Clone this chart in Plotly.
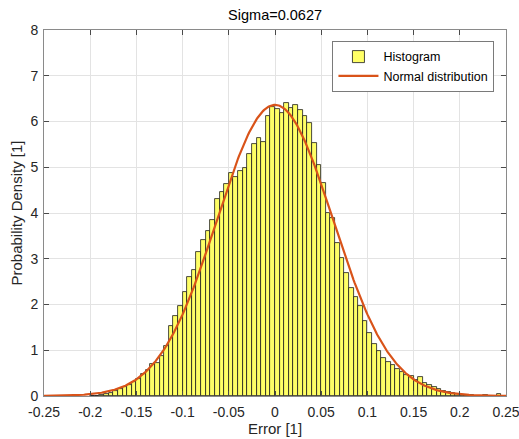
import numpy as np
import plotly.graph_objects as go

# ---- data ----
bin_width = 0.005
bin_start = -0.2
density = [
    0.01, 0.01, 0.02, 0.04, 0.07, 0.10, 0.15, 0.19, 0.23, 0.31,
    0.38, 0.48, 0.57, 0.70, 0.73, 0.88, 1.10, 1.53, 1.75, 1.97,
    2.28, 2.60, 2.75, 3.15, 3.41, 3.61, 3.85, 4.30, 4.47, 4.63,
    4.87, 4.79, 4.92, 4.99, 5.28, 5.50, 5.65, 5.55, 6.11, 6.32,
    6.27, 6.19, 6.40, 6.29, 6.35, 6.25, 6.13, 5.96, 5.52, 5.05,
    4.65, 4.01, 3.88, 3.35, 3.02, 2.68, 2.36, 2.17, 1.96, 1.64,
    1.37, 1.14, 0.98, 0.83, 0.74, 0.67, 0.58, 0.53, 0.47, 0.44,
    0.34, 0.41, 0.29, 0.23, 0.19, 0.15, 0.11, 0.08, 0.06, 0.04,
    0.03, 0.02, 0.02, 0.01, 0.01, 0.02, 0.01, 0.00, 0.05,
]
mu = 0.0
sigma = 0.0627
x_ticks = [-0.25, -0.2, -0.15, -0.1, -0.05, 0, 0.05, 0.1, 0.15, 0.2, 0.25]
x_tick_text = ["-0.25", "-0.2", "-0.15", "-0.1", "-0.05", "0", "0.05", "0.1", "0.15", "0.2", "0.25"]
y_ticks = [0, 1, 2, 3, 4, 5, 6, 7, 8]

bin_centers = [round(bin_start + bin_width * (i + 0.5), 4) for i in range(len(density))]
xc = np.linspace(-0.25, 0.25, 501)
pdf = np.exp(-0.5 * ((xc - mu) / sigma) ** 2) / (sigma * np.sqrt(2 * np.pi))

FONT = "Liberation Sans, Arial, Helvetica, sans-serif"
TXT = "#262626"

fig = go.Figure()
fig.add_trace(go.Bar(
    x=bin_centers, y=density, width=bin_width,
    marker=dict(color="#FFFF66", line=dict(color="#1a1a1a", width=0.8)),
    name="Histogram",
))
fig.add_trace(go.Scatter(
    x=xc, y=pdf, mode="lines",
    line=dict(color="#D95319", width=2.2),
    name="Normal distribution",
))

axis_common = dict(
    showgrid=True, gridcolor="#e3e3e3", gridwidth=1,
    showline=True, linecolor="#8a8a8a", linewidth=1,
    mirror="allticks", ticks="inside", ticklen=5, tickcolor="#4a4a4a",
    zeroline=False, automargin=False, ticklabeloverflow="allow",
    tickfont=dict(family=FONT, size=14, color=TXT),
)

fig.update_layout(
    width=519, height=439,
    margin=dict(l=44, r=13, t=30, b=43),
    paper_bgcolor="white", plot_bgcolor="white",
    bargap=0,
    title=dict(text="Sigma=0.0627", x=0.53, xanchor="center",
               y=1 - 15 / 439, yanchor="middle", yref="container",
               font=dict(family=FONT, size=14.5, color="black")),
    xaxis=dict(range=[-0.25, 0.25], tickvals=x_ticks, ticktext=x_tick_text,
               ticklabelstandoff=3,
               title=dict(text="Error [1]", font=dict(family=FONT, size=15, color=TXT), standoff=2),
               **axis_common),
    yaxis=dict(range=[0, 8], tickvals=y_ticks, ticklabelstandoff=2,
               title=dict(text="Probability Density [1]", font=dict(family=FONT, size=15, color=TXT), standoff=4),
               **axis_common),
    legend=dict(x=0.975, y=0.97, xanchor="right", yanchor="top",
                bgcolor="white", bordercolor="#7a7a7a", borderwidth=1,
                font=dict(family=FONT, size=12.5, color="black"),
                tracegroupgap=0, itemwidth=40),
    showlegend=True,
)

fig.write_html("out.html")
